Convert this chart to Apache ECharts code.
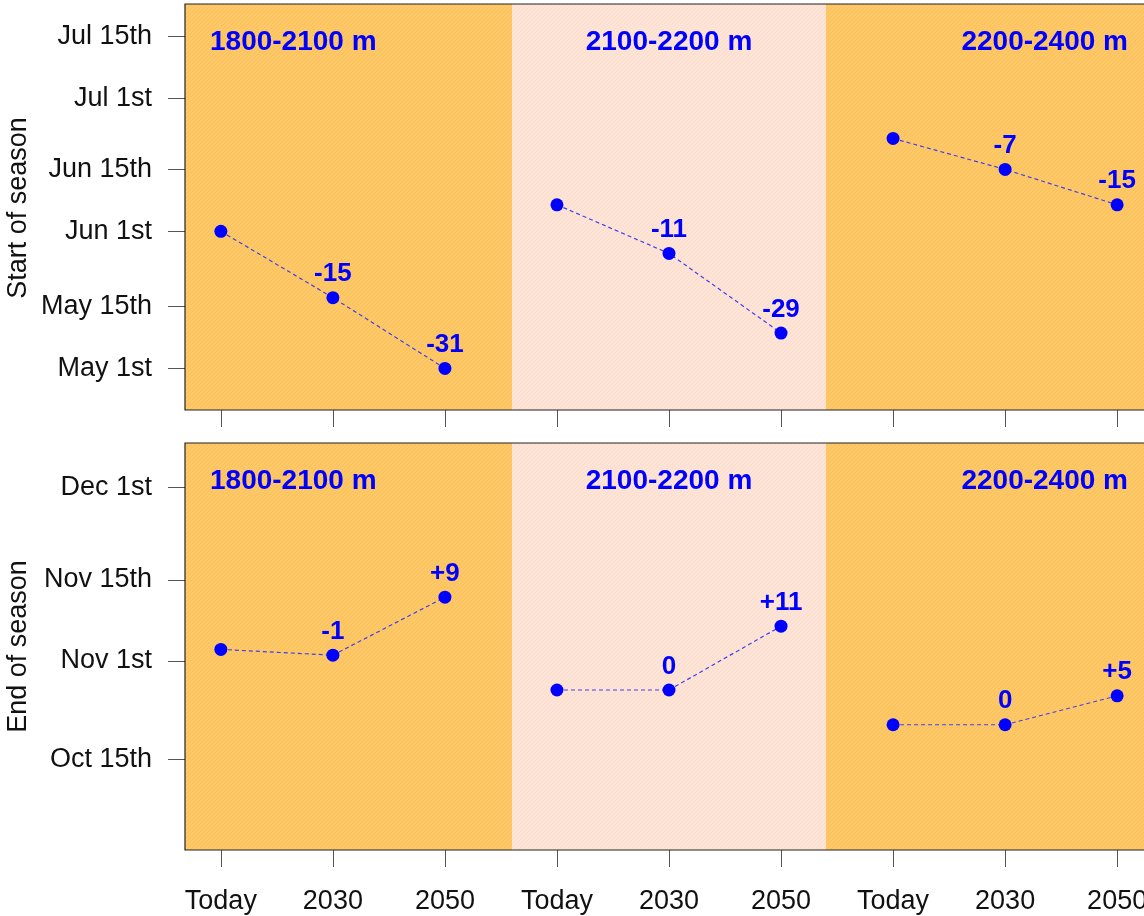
<!DOCTYPE html>
<html><head><meta charset="utf-8">
<script src="https://cdn.jsdelivr.net/npm/echarts@6/dist/echarts.min.js"></script>
<style>html,body{margin:0;padding:0;background:#fff;overflow:hidden}#c{width:1153px;height:916px}</style>
</head><body><div id="c"></div>
<script>
// ---- data ----
const periods = ['Today', '2030', '2050'];
const regions = ['1800-2100 m', '2100-2200 m', '2200-2400 m'];
// day of year
const startSeason = [[152, 137, 121], [158, 147, 129], [173, 166, 158]];
const endSeason = [[307, 306, 316], [300, 300, 311], [294, 294, 299]];
const startTickDays = [121, 135, 152, 166, 182, 196];
const startTickLabels = ['May 1st', 'May 15th', 'Jun 1st', 'Jun 15th', 'Jul 1st', 'Jul 15th'];
const endTickDays = [288, 305, 319, 335];
const endTickLabels = ['Oct 15th', 'Nov 1st', 'Nov 15th', 'Dec 1st'];
const yTitles = ['Start of season', 'End of season'];

// ---- layout / style ----
const FONT = 'Liberation Sans, Arial, Helvetica, sans-serif';
const regionBounds = [0.68, 3.6, 6.4, 9.32];
const xTicks = [1, 2, 3, 4, 5, 6, 7, 8, 9];
const yRanges = [[111.6, 203.4], [272.4, 342.6]];
const grids = [
  { left: 185, right: 0, top: 4, bottom: 506 },
  { left: 185, right: 0, top: 443, bottom: 66 }
];

function hatch(bg, line) {
  const c = document.createElement('canvas');
  c.width = 4; c.height = 4;
  const g = c.getContext('2d');
  g.fillStyle = bg; g.fillRect(0, 0, 4, 4);
  g.strokeStyle = line; g.lineWidth = 0.8;
  g.beginPath();
  g.moveTo(-1, 5); g.lineTo(5, -1);
  g.moveTo(-1, 1); g.lineTo(1, -1);
  g.moveTo(3, 5); g.lineTo(5, 3);
  g.stroke();
  return c;
}
const fills = [
  { image: hatch('#FFC866', '#F7BE5C'), repeat: 'repeat' },
  { image: hatch('#FEE4D6', '#F9DACA'), repeat: 'repeat' },
  { image: hatch('#FFC866', '#F7BE5C'), repeat: 'repeat' }
];
const labelPos = ['insideTopLeft', 'insideTop', 'insideTopRight'];

const chart = echarts.init(document.getElementById('c'), null, { renderer: 'canvas' });

const tickSets = [[startTickDays, startTickLabels], [endTickDays, endTickLabels]];
const panels = [startSeason, endSeason];

const xAxes = grids.map((g, p) => ({
  type: 'value', gridIndex: p, min: regionBounds[0], max: regionBounds[3],
  axisLine: { show: false },
  splitLine: { show: false },
  axisTick: { show: true, length: 17, inside: false, customValues: xTicks, lineStyle: { color: '#555', width: 1 } },
  axisLabel: {
    show: p === 1, customValues: xTicks, margin: 38,
    color: '#111', fontSize: 27, fontFamily: FONT,
    formatter: v => periods[(Math.round(v) - 1) % 3]
  }
}));

const yAxes = grids.map((g, p) => ({
  type: 'value', gridIndex: p, min: yRanges[p][0], max: yRanges[p][1],
  axisLine: { show: false },
  splitLine: { show: false },
  axisTick: { show: true, length: 17, inside: false, customValues: tickSets[p][0], lineStyle: { color: '#555', width: 1 } },
  axisLabel: {
    customValues: tickSets[p][0], margin: 33,
    color: '#111', fontSize: 27, fontFamily: FONT,
    formatter: v => tickSets[p][1][tickSets[p][0].indexOf(Math.round(v))]
  }
}));

const series = [];
panels.forEach((vals, p) => {
  regions.forEach((reg, r) => {
    series.push({
      type: 'line', xAxisIndex: p, yAxisIndex: p, silent: true,
      data: vals[r].map((v, i) => [r * 3 + i + 1, v]),
      symbol: 'circle', symbolSize: 13,
      itemStyle: { color: '#0000FF' },
      lineStyle: { color: '#4040EE', width: 1.2, type: [4, 3] },
      label: {
        show: true, position: 'top', distance: 4,
        color: '#0000FF', fontSize: 26, fontWeight: 'bold', fontFamily: FONT,
        formatter: prm => {
          const i = prm.dataIndex;
          if (i === 0) return '';
          const d = vals[r][i] - vals[r][0];
          return d > 0 ? '+' + d : String(d);
        }
      },
      z: 3,
      markArea: {
        silent: true, z: 1,
        data: [[
          { name: reg, xAxis: regionBounds[r], itemStyle: { color: fills[r] },
            label: { position: labelPos[r] } },
          { xAxis: regionBounds[r + 1] }
        ]],
        label: {
          show: true, distance: 25, offset: [0, -1],
          color: '#0000FF', fontSize: 28, fontWeight: 'bold', fontFamily: FONT
        }
      }
    });
  });
});

const option = {
  animation: false,
  backgroundColor: '#fff',
  grid: grids.map(g => Object.assign({ show: true, borderColor: '#222', borderWidth: 1.2, backgroundColor: 'transparent', z: 5 }, g)),
  xAxis: xAxes,
  yAxis: yAxes,
  series: series,
  graphic: yTitles.map((t, p) => ({
    type: 'text', x: 19, y: p === 0 ? 208 : 646.5, rotation: Math.PI / 2,
    style: { text: t, fontSize: 27, fontFamily: FONT, fill: '#111', textAlign: 'center', textVerticalAlign: 'middle' }
  }))
};
chart.setOption(option);
</script>
</body></html>
